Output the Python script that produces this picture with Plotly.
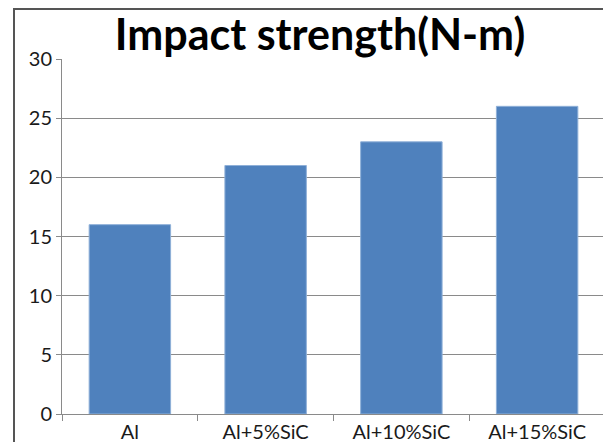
import plotly.graph_objects as go

categories = ["Al", "Al+5%SiC", "Al+10%SiC", "Al+15%SiC"]
values = [16, 21, 23, 26]
y_ticks = [0, 5, 10, 15, 20, 25, 30]
title_text = "Impact strength(N-m)"

W, H = 611, 442
# the page is drawn with an 8px body offset; layout in figure pixels
L, R, T, B = 54, 14, 51, 36
pw, ph = W - L - R, H - T - B

def px_x(x):
    return (x - L) / pw

def px_y(y):
    return (H - B - y) / ph

fig = go.Figure(go.Bar(
    x=categories, y=values,
    marker=dict(color="#4F81BD", line=dict(color="#8fb0d8", width=1)),
    width=0.6,
))

grey = "#8a8a8a"
fig.update_layout(
    width=W, height=H,
    margin=dict(l=L, r=R, t=T, b=B, pad=0, autoexpand=False),
    paper_bgcolor="white", plot_bgcolor="white",
    showlegend=False,
    font=dict(family="Lato", size=20, color="#1a1a1a"),
    title=dict(text="<b>" + title_text + "</b>", x=312 / W, xanchor="center",
               y=1 - 27 / H, yanchor="middle", automargin=False,
               font=dict(family="Lato", size=43, color="black")),
    xaxis=dict(showline=True, linecolor=grey, linewidth=1, ticks="outside",
               tickson="boundaries", ticklen=6, tickcolor=grey, showgrid=False,
               automargin=False, tickfont=dict(size=20)),
    yaxis=dict(range=[0, 30], tickvals=y_ticks, showline=True, linecolor=grey,
               linewidth=1, ticks="outside", ticklen=5, tickcolor=grey,
               showgrid=True, gridcolor=grey, gridwidth=1, zeroline=False,
               automargin=False, tickfont=dict(size=20)),
    shapes=[dict(type="rect", xref="paper", yref="paper",
                 x0=px_x(6), x1=px_x(600), y0=px_y(460), y1=px_y(1),
                 line=dict(color="#555555", width=2), layer="above")],
)

fig.write_html("out.html")
